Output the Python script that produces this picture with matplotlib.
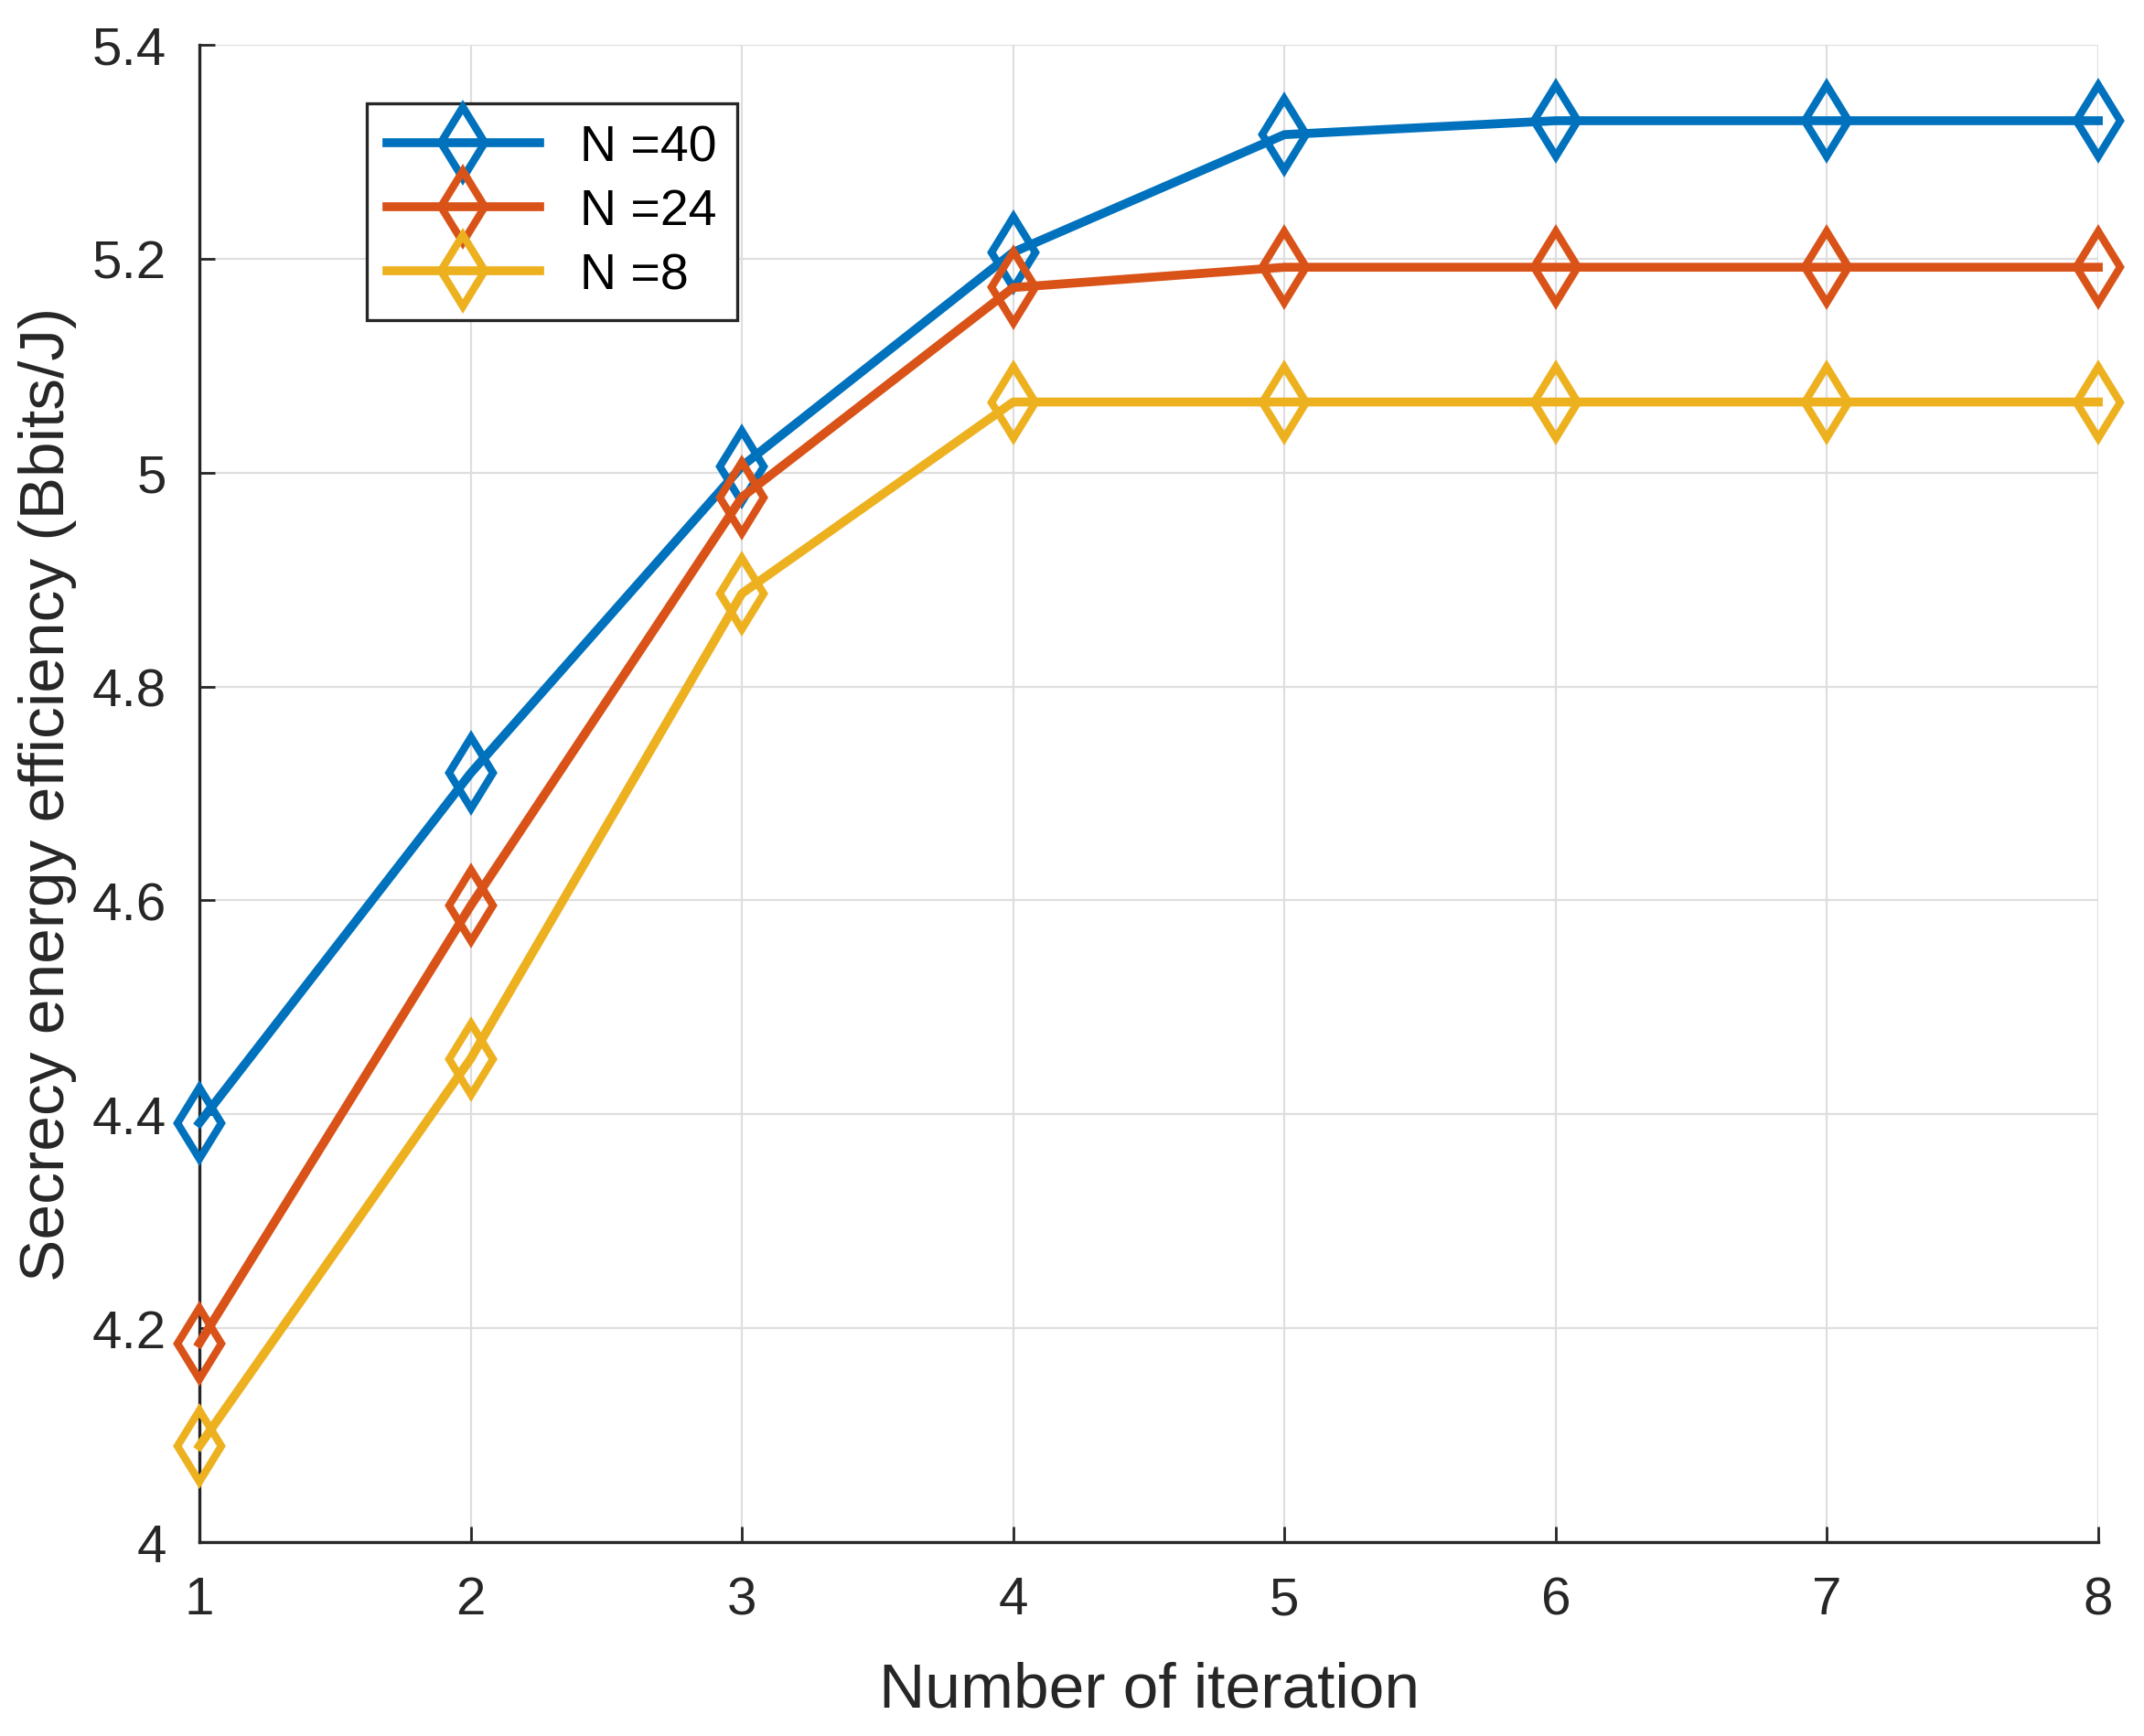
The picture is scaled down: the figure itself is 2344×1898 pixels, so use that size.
import matplotlib.pyplot as plt
import matplotlib

matplotlib.rcParams['font.family'] = ['Liberation Sans', 'DejaVu Sans']

# 数据
iterations = [1, 2, 3, 4, 5, 6, 7, 8]
see_n40 = [4.392, 4.719, 5.006, 5.206, 5.316, 5.329, 5.329, 5.329]
see_n24 = [4.186, 4.595, 4.977, 5.173, 5.192, 5.192, 5.192, 5.192]
see_n8 = [4.090, 4.452, 4.887, 5.066, 5.066, 5.066, 5.066, 5.066]
labels = ['N =40', 'N =24', 'N =8']
colors = ['#0072BD', '#D95319', '#EDB120']

fig = plt.figure(figsize=(11.72, 9.495), dpi=200)
ax = fig.add_axes([0.093, 0.1116, 0.8857, 0.8621])

for ys, lab, c in zip([see_n40, see_n24, see_n8], labels, colors):
    ax.plot(iterations, ys, color=c, lw=3.5, marker='d', ms=20,
            mfc='none', mew=3.0, label=lab, clip_on=False, zorder=3)

ax.set_xlim(1, 8)
ax.set_ylim(4, 5.4)
ax.set_xticks(iterations)
ax.set_yticks([4, 4.2, 4.4, 4.6, 4.8, 5, 5.2, 5.4])
ax.set_yticklabels(['4', '4.2', '4.4', '4.6', '4.8', '5', '5.2', '5.4'])
ax.grid(True, color='#dedede', lw=0.8)
ax.set_axisbelow(True)

for s in ['top', 'right']:
    ax.spines[s].set_visible(False)
for s in ['left', 'bottom']:
    ax.spines[s].set_color('#262626')
    ax.spines[s].set_linewidth(1.2)
ax.tick_params(direction='in', length=6, width=1.0, colors='#262626',
               labelsize=21, pad=13)

ax.set_xlabel('Number of iteration', fontsize=25, color='#262626', labelpad=14)
ax.set_ylabel('Secrecy energy efficiency (Bbits/J)', fontsize=25,
              color='#262626', labelpad=6)

leg = ax.legend(loc='upper left', bbox_to_anchor=(0.088, 0.961),
                borderaxespad=0, fontsize=20, handlelength=3.0,
                labelspacing=0.33, fancybox=False, framealpha=1,
                edgecolor='#262626', borderpad=0.4)
leg.get_frame().set_linewidth(1.2)

fig.savefig('out.png', dpi=200)
